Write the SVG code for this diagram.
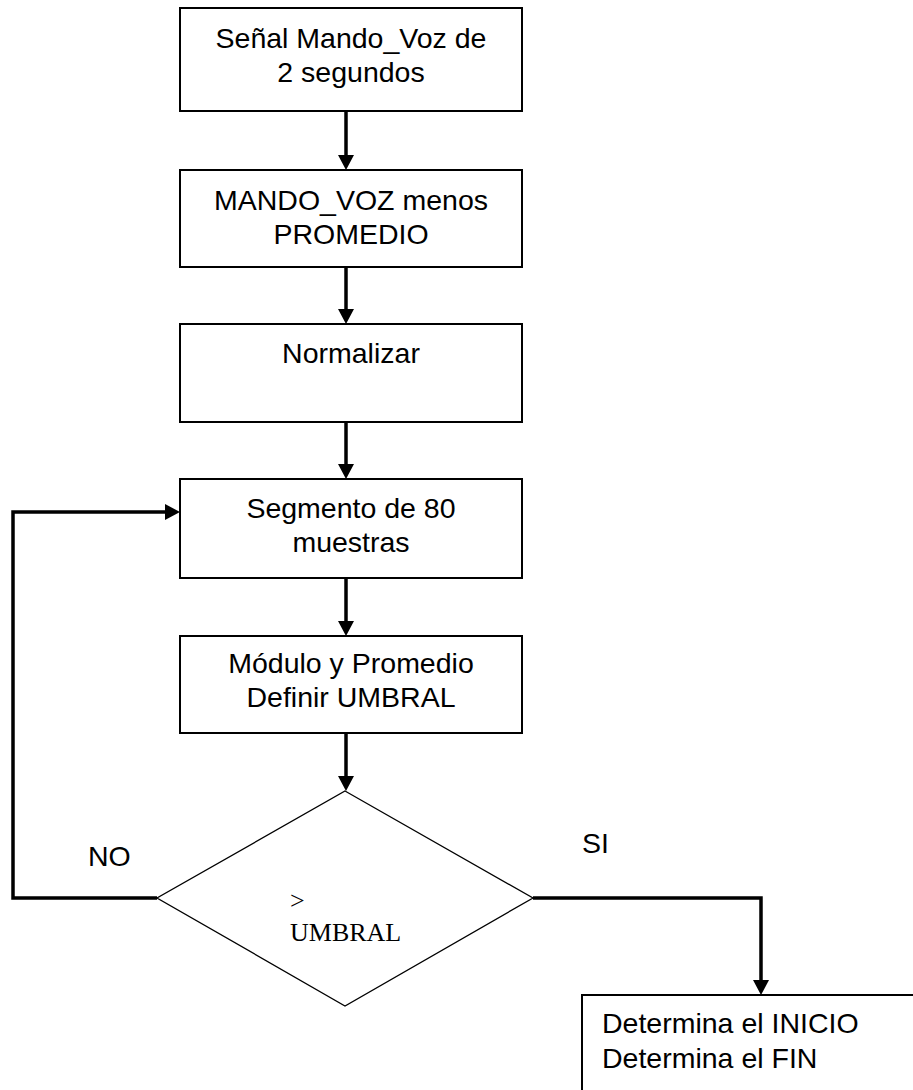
<svg xmlns="http://www.w3.org/2000/svg" width="913" height="1090" viewBox="0 0 913 1090">
<style>
.box{fill:#fff;stroke:#000;stroke-width:2}
.dia{fill:#fff;stroke:#000;stroke-width:1.3}
.t{font-family:"Liberation Sans",Arial,sans-serif;font-size:28.5px;fill:#000}
.c{text-anchor:middle}
.s{font-family:"Liberation Serif","Times New Roman",serif;font-size:26px;fill:#000}
.con{fill:none;stroke:#000;stroke-width:3.5;marker-end:url(#ah)}
.plain{fill:none;stroke:#000;stroke-width:3.5}
</style>
<defs>
<marker id="ah" viewBox="0 0 15 16" refX="3" refY="8" markerWidth="15" markerHeight="16" markerUnits="userSpaceOnUse" orient="auto">
<path d="M0,0 L15,8 L0,16 z" fill="#000"/>
</marker>
</defs>
<g id="connectors">
<path class="con" d="M346,111 V158"/>
<path class="con" d="M346,267 V312"/>
<path class="con" d="M346,422 V467"/>
<path class="con" d="M346,578 V624"/>
<path class="con" d="M346,733 V779"/>
<path class="con" d="M157,898 H13 V512 H168"/>
<path class="con" d="M533,898 H761 V983"/>
<text class="t" x="88" y="866">NO</text>
<text class="t" x="582" y="853">SI</text>
</g>
<g id="n1">
<rect class="box" x="180" y="8" width="342" height="103"/>
<text class="t c" x="351" y="48">Señal Mando_Voz de</text>
<text class="t c" x="351" y="82">2 segundos</text>
</g>
<g id="n2">
<rect class="box" x="180" y="170" width="342" height="97"/>
<text class="t c" x="351" y="210">MANDO_VOZ menos</text>
<text class="t c" x="351" y="244">PROMEDIO</text>
</g>
<g id="n3">
<rect class="box" x="180" y="324" width="342" height="98"/>
<text class="t c" x="351" y="363">Normalizar</text>
</g>
<g id="n4">
<rect class="box" x="180" y="479" width="342" height="99"/>
<text class="t c" x="351" y="518">Segmento de 80</text>
<text class="t c" x="351" y="552">muestras</text>
</g>
<g id="n5">
<rect class="box" x="180" y="636" width="342" height="97"/>
<text class="t c" x="351" y="673">Módulo y Promedio</text>
<text class="t c" x="351" y="707">Definir UMBRAL</text>
</g>
<g id="n6">
<polygon class="dia" points="345,791 533,898 345,1006 157,898"/>
<text class="s" x="290" y="909">&gt;</text>
<text class="s" x="290" y="941">UMBRAL</text>
</g>
<g id="n7">
<rect class="box" x="582" y="995" width="345" height="110"/>
<text class="t" x="602" y="1033">Determina el INICIO</text>
<text class="t" x="602" y="1068">Determina el FIN</text>
</g>
</svg>
